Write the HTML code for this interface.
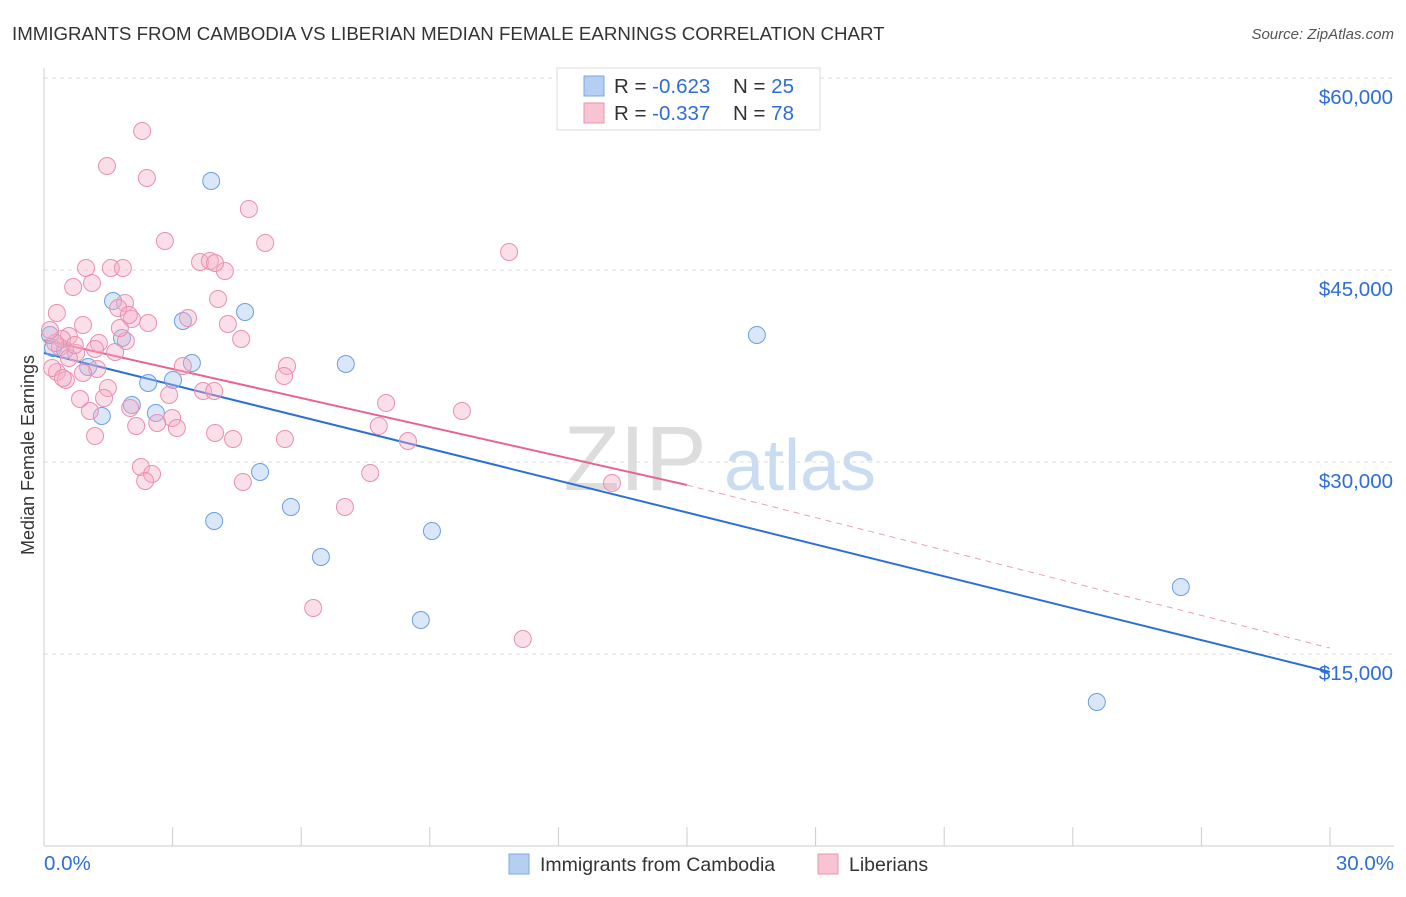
<!DOCTYPE html>
<html><head><meta charset="utf-8"><style>
body{margin:0;background:#fff;font-family:"Liberation Sans",sans-serif;}
svg text{font-family:"Liberation Sans",sans-serif;}
</style></head><body>
<svg id="c" width="1406" height="892" xmlns="http://www.w3.org/2000/svg">
<text x="12" y="40" font-size="18.7" fill="#333">IMMIGRANTS FROM CAMBODIA VS LIBERIAN MEDIAN FEMALE EARNINGS CORRELATION CHART</text>
<text x="1394" y="39" font-size="15" fill="#555" font-style="italic" text-anchor="end">Source: ZipAtlas.com</text>
<text x="34" y="455" font-size="18" fill="#333" text-anchor="middle" transform="rotate(-90 34 455)">Median Female Earnings</text>
<g>
<text x="635" y="490" font-size="92" font-family="Liberation Serif" fill="#ddd" text-anchor="middle">ZIP</text>
<text x="800" y="490" font-size="72" fill="#c9dcf2" text-anchor="middle">atlas</text>
</g>
<g id="grid"></g><g id="axes"></g><g id="lines"></g><g id="pts"></g>
<g>
<rect x="557" y="68" width="263" height="62" fill="#fff" stroke="#ddd"/>
<rect x="584" y="76" width="20" height="20" fill="#b5cff3" stroke="#7aa7e4"/>
<rect x="584" y="103" width="20" height="20" fill="#f8c3d3" stroke="#ea94b2"/>
<text x="614" y="93" font-size="20.5" fill="#333">R = <tspan fill="#2d6ed6">-0.623</tspan></text>
<text x="733" y="93" font-size="20.5" fill="#333">N = <tspan fill="#2d6ed6">25</tspan></text>
<text x="614" y="120" font-size="20.5" fill="#333">R = <tspan fill="#2d6ed6">-0.337</tspan></text>
<text x="733" y="120" font-size="20.5" fill="#333">N = <tspan fill="#2d6ed6">78</tspan></text>
</g>
<g>
<rect x="509" y="854" width="20" height="20" fill="#b5cff3" stroke="#7aa7e4"/>
<text x="540" y="871" font-size="19.5" fill="#333">Immigrants from Cambodia</text>
<rect x="818" y="854" width="20" height="20" fill="#f8c3d3" stroke="#ea94b2"/>
<text x="849" y="871" font-size="19.5" fill="#333">Liberians</text>
</g>
</svg>
<script>
const yTicks=[15000,30000,45000,60000];
const yTickLabels=["$15,000","$30,000","$45,000","$60,000"];
const xTickLabels=["0.0%","30.0%"];
const blueX=[3.90,1.61,4.69,3.24,1.82,16.63,0.21,0.49,1.03,7.04,3.45,2.43,3.01,2.05,2.61,1.35,5.04,5.76,3.97,6.46,9.05,8.79,26.52,24.56,0.14];
const blueY=[51953,42578,41719,41016,39688,39922,38906,38750,37422,37656,37734,36172,36406,34453,33828,33594,29219,26484,25391,22578,24609,17656,20234,11250,39922];
const pinkX=[2.29,1.47,2.4,4.78,2.82,5.16,10.85,0.98,1.56,1.84,3.64,3.87,4.22,1.12,0.68,4.06,1.89,0.3,1.73,3.36,2.05,2.43,0.91,4.29,4.6,0.58,0.37,1.28,1.91,0.75,1.66,0.58,1.24,5.67,3.24,0.3,0.51,0.91,5.6,1.49,3.71,3.97,2.92,0.84,1.4,2.01,7.98,9.75,1.07,2.99,7.81,2.64,2.15,3.1,8.49,1.19,3.99,4.41,5.62,2.26,2.52,7.61,2.36,4.64,13.25,7.02,6.28,11.17,0.42,0.26,0.14,0.72,1.19,0.19,0.44,3.99,1.77,1.98];
const pinkY=[55859,53125,52188,49766,47266,47109,46406,45156,45156,45156,45625,45703,44922,43984,43672,42734,42422,41641,42031,41250,41172,40859,40703,40781,39609,39844,38984,39297,39453,38516,38594,38125,37266,37500,37500,37031,36406,36953,36719,35781,35547,35547,35234,34922,35000,34219,34609,33984,33984,33438,32813,33047,32813,32656,31641,32031,32266,31797,31797,29609,29063,29141,28516,28438,28359,26484,18594,16172,39609,39297,40313,39141,38828,37344,36563,45547,40469,41484];
const blueFit=[[0,38516],[30,13594]], pinkFit=[[0,39531],[15,28203],[30,15469]];
const X=v=>44+v/30*1286, Y=v=>846-v/15000*192;
const NS="http://www.w3.org/2000/svg";
function mk(tag,at,par){const e=document.createElementNS(NS,tag);for(const k in at)e.setAttribute(k,at[k]);document.getElementById(par).appendChild(e);return e;}
yTicks.forEach((t,i)=>{
 const g=mk('line',{x1:44,x2:1394,y1:Y(t),y2:Y(t),stroke:'#ddd','stroke-dasharray':'4,4'},'grid');
 
 
 const l=mk('text',{x:1393,y:Y(t)+26,'font-size':20.5,fill:'#2d6ed6','text-anchor':'end'},'axes');l.textContent=yTickLabels[i];
 
 
});
mk('line',{x1:44,x2:44,y1:68,y2:846,stroke:'#ccc'},'axes');
mk('line',{x1:44,x2:1394,y1:846,y2:846,stroke:'#ccc'},'axes');
for(let i=0;i<=10;i++){const t=mk('line',{x1:X(i*3),x2:X(i*3),y1:827,y2:846,stroke:'#ccc'},'axes');
 
 }
const xl0=mk('text',{x:44,y:870,'font-size':20.5,fill:'#2d6ed6'},'axes');xl0.textContent=xTickLabels[0];


const xl1=mk('text',{x:1394,y:870,'font-size':20.5,fill:'#2d6ed6','text-anchor':'end'},'axes');xl1.textContent=xTickLabels[1];


blueX.forEach((x,i)=>{const c=mk('circle',{cx:X(x),cy:Y(blueY[i]),r:8.5,fill:'rgba(160,196,240,0.4)',stroke:'#6c9fe0','stroke-width':1},'pts');
 
 });
pinkX.forEach((x,i)=>{const c=mk('circle',{cx:X(x),cy:Y(pinkY[i]),r:8.5,fill:'rgba(245,176,198,0.4)',stroke:'#ea8fb0','stroke-width':1},'pts');
 
 });
const bl=mk('line',{x1:X(blueFit[0][0]),y1:Y(blueFit[0][1]),x2:X(blueFit[1][0]),y2:Y(blueFit[1][1]),stroke:'#2b6fd6','stroke-width':2},'lines');


const pl=mk('line',{x1:X(pinkFit[0][0]),y1:Y(pinkFit[0][1]),x2:X(pinkFit[1][0]),y2:Y(pinkFit[1][1]),stroke:'#e8638f','stroke-width':2},'lines');


const pd=mk('line',{x1:X(pinkFit[1][0]),y1:Y(pinkFit[1][1]),x2:X(pinkFit[2][0]),y2:Y(pinkFit[2][1]),stroke:'#e8a0b8','stroke-width':1,'stroke-dasharray':'6,5'},'lines');


</script>
</body></html>
